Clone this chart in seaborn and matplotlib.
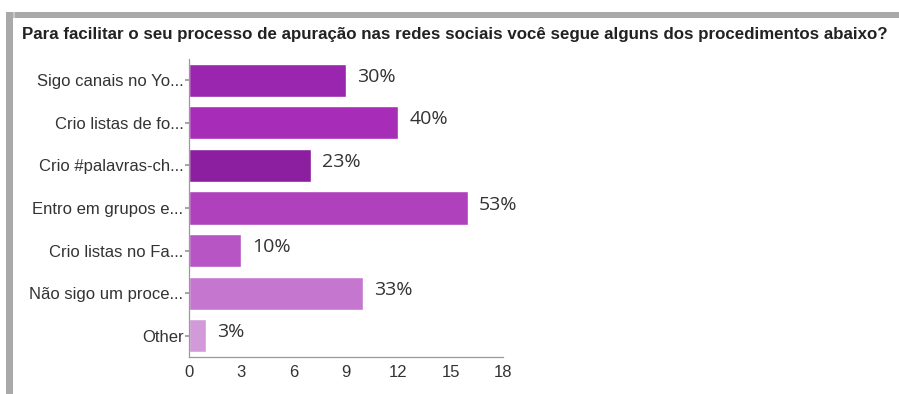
import matplotlib
matplotlib.use("Agg")
import matplotlib.pyplot as plt
from matplotlib.patches import Rectangle
import seaborn as sns
import pandas as pd

# Survey answers (truncated as shown on the axis) and number of respondents
categories = [
    "Sigo canais no Yo...",
    "Crio listas de fo...",
    "Crio #palavras-ch...",
    "Entro em grupos e...",
    "Crio listas no Fa...",
    "Não sigo um proce...",
    "Other",
]
counts = [9, 12, 7, 16, 3, 10, 1]
percent_labels = ["30%", "40%", "23%", "53%", "10%", "33%", "3%"]
bar_colors = ["#9a25ae", "#a72db9", "#8b1fa0", "#b041bd", "#b655c3", "#c577cf", "#d39ad9"]
x_ticks = [0, 3, 6, 9, 12, 15, 18]
title = ("Para facilitar o seu processo de apuração nas redes sociais "
         "você segue alguns dos procedimentos abaixo?")

df = pd.DataFrame({"answer": categories, "count": counts})

sns.set_theme(style="white")
plt.rcParams["font.family"] = ["Liberation Sans", "DejaVu Sans"]

W, H = 899, 394
fig = plt.figure(figsize=(W / 100, H / 100), dpi=100)
fig.patch.set_facecolor("white")

# card frame: grey shadow along top and left edge
frame_color = "#a9a9a9"
fig.add_artist(Rectangle((8 / W, 1 - 18 / H), 1 - 8 / W, 6 / H,
                         transform=fig.transFigure, color=frame_color, lw=0))
fig.add_artist(Rectangle((6 / W, 0), 7 / W, 1 - 12 / H,
                         transform=fig.transFigure, color=frame_color, lw=0))
fig.add_artist(Rectangle((13 / W, 1 - 18 / H), 2 / W, 6 / H,
                         transform=fig.transFigure, color="#c8c8c8", lw=0))

ax = fig.add_axes([189 / W, 37 / H, 314 / W, 298 / H])
sns.barplot(data=df, x="count", y="answer", hue="answer", palette=bar_colors,
            orient="h", width=0.78, legend=False, ax=ax, saturation=1)

ax.set_xlim(0, 18)
ax.set_ylim(6.5, -0.5)
ax.set_xticks(x_ticks)
ax.set_xlabel("")
ax.set_ylabel("")
ax.set_facecolor("none")

for s in ["top", "right"]:
    ax.spines[s].set_visible(False)
for s in ["left", "bottom"]:
    ax.spines[s].set_color("#9a9a9a")
    ax.spines[s].set_linewidth(0.9)

ax.tick_params(axis="x", direction="in", length=3, color="#9a9a9a",
               labelsize=12, labelcolor="#333333", pad=6)
ax.tick_params(axis="y", direction="out", length=3, color="#9a9a9a", left=True,
               labelsize=12, labelcolor="#333333", pad=1)

for i, (c, lab) in enumerate(zip(counts, percent_labels)):
    ax.annotate(lab, xy=(c, i), xytext=(8, 2.5), textcoords="offset points",
                ha="left", va="center", fontsize=14, color="#333333",
                family=["Open Sans", "DejaVu Sans"])

fig.text(22 / W, 1 - 34 / H, title, ha="left", va="center",
         fontsize=12.15, fontweight="bold", color="#222222")

fig.savefig("out.png", dpi=100)
